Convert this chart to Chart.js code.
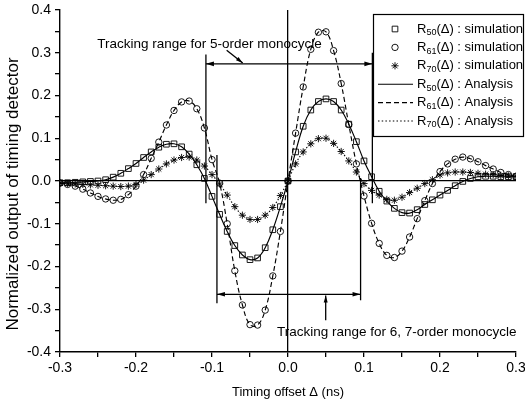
<!DOCTYPE html>
<html><head><meta charset="utf-8">
<script src="https://cdn.jsdelivr.net/npm/chart.js@4.4.0/dist/chart.umd.min.js"></script>
<style>html,body{margin:0;padding:0;background:#fff;}#wrap{position:relative;width:525px;height:403px;}canvas{display:block;}</style>
</head><body><div id="wrap"><canvas id="c" width="525" height="403"></canvas></div>
<script>
// ---- data ----
const offsets = [-0.30,-0.29,-0.28,-0.27,-0.26,-0.25,-0.24,-0.23,-0.22,-0.21,-0.20,-0.19,-0.18,-0.17,-0.16,-0.15,-0.14,-0.13,-0.12,-0.11,-0.10,-0.09,-0.08,-0.07,-0.06,-0.05,-0.04,-0.03,-0.02,-0.01,0.00,0.01,0.02,0.03,0.04,0.05,0.06,0.07,0.08,0.09,0.10,0.11,0.12,0.13,0.14,0.15,0.16,0.17,0.18,0.19,0.20,0.21,0.22,0.23,0.24,0.25,0.26,0.27,0.28,0.29,0.30];
const r50 = [-0.004,-0.004,-0.003,-0.002,-0.001,0.000,0.003,0.009,0.018,0.029,0.041,0.055,0.068,0.079,0.086,0.087,0.080,0.063,0.038,0.006,-0.036,-0.078,-0.118,-0.151,-0.173,-0.184,-0.180,-0.156,-0.114,-0.060,0.000,0.068,0.128,0.166,0.186,0.192,0.186,0.166,0.133,0.092,0.047,0.010,-0.024,-0.047,-0.064,-0.074,-0.075,-0.067,-0.055,-0.044,-0.033,-0.022,-0.011,-0.001,0.006,0.010,0.011,0.011,0.010,0.010,0.010];
const r61 = [-0.005,-0.008,-0.012,-0.019,-0.028,-0.036,-0.042,-0.045,-0.043,-0.032,-0.012,0.015,0.053,0.091,0.131,0.165,0.185,0.187,0.169,0.124,0.050,-0.005,-0.100,-0.210,-0.290,-0.336,-0.337,-0.302,-0.222,-0.118,0.000,0.112,0.220,0.308,0.348,0.349,0.305,0.228,0.132,0.040,-0.035,-0.099,-0.146,-0.174,-0.179,-0.164,-0.131,-0.088,-0.046,-0.006,0.022,0.040,0.051,0.056,0.052,0.045,0.036,0.028,0.020,0.015,0.011];
const r70 = [-0.005,-0.006,-0.007,-0.008,-0.009,-0.010,-0.011,-0.012,-0.013,-0.012,-0.008,0.002,0.015,0.028,0.040,0.049,0.055,0.056,0.049,0.035,0.015,-0.007,-0.033,-0.060,-0.080,-0.090,-0.090,-0.080,-0.062,-0.034,0.000,0.040,0.068,0.087,0.099,0.100,0.088,0.069,0.047,0.021,-0.006,-0.022,-0.033,-0.043,-0.045,-0.038,-0.027,-0.017,-0.006,0.003,0.014,0.019,0.021,0.021,0.020,0.018,0.016,0.015,0.013,0.012,0.011];
const xMajorTicks = [-0.3,-0.2,-0.1,0.0,0.1,0.2,0.3];
const yMajorTicks = [-0.4,-0.3,-0.2,-0.1,0.0,0.1,0.2,0.3,0.4];
const seriesSubs = ['50','61','70'];
const xTitle = 'Timing offset \u0394 (ns)';
const yTitle = 'Normalized output of timing detector';

// ---- annotations (data coordinates) ----
const ranges = [
  {x1:-0.108, x2:0.111, yArrow:0.274, leftSpan:[0.296,-0.052], rightSpan:[0.300,-0.052]},
  {x1:-0.0935, x2:0.0955, yArrow:-0.265, leftSpan:[0.061,-0.286], rightSpan:[0.007,-0.279]}
];
const notes = [
  {text:'Tracking range for 5-order monocycle', x:-0.251, y:0.319, from:[-0.0807,0.306], to:[-0.0596,0.276]},
  {text:'Tracking range for 6, 7-order monocycle', x:-0.0145, y:-0.354, from:[0.0496,-0.326], to:[0.0496,-0.268]}
];

const FONT = 'Arial, "Liberation Sans", sans-serif';
const pts = arr => offsets.map((x,i)=>({x:x, y:arr[i]}));
const markerStyles = ['rect','circle','star'];
const markerRadius = [4,3.2,3.6];
const dashes = [[],[5,3],[1.5,2.2]];
const allSeries = [r50, r61, r70];

const datasets = [];
allSeries.forEach((s,i)=>{
  datasets.push({label:'R'+seriesSubs[i]+'(\u0394) : simulation', legendSub:seriesSubs[i], legendTail:'(\u0394) : simulation', legendKind:'marker',
    data:pts(s), showLine:false, pointStyle:markerStyles[i], pointRadius:markerRadius[i], pointHoverRadius:markerRadius[i],
    pointBorderColor:'#000', pointBackgroundColor:'rgba(0,0,0,0)', pointBorderWidth:0.9, borderColor:'#000'});
});
allSeries.forEach((s,i)=>{
  datasets.push({label:'R'+seriesSubs[i]+'(\u0394) : Analysis', legendSub:seriesSubs[i], legendTail:'(\u0394) : Analysis', legendKind:'line',
    data:pts(s), showLine:true, pointRadius:0, borderColor:'#000', borderWidth:1.15, borderDash:dashes[i], tension:0.4, fill:false});
});

function isMajor(v, list){ return list.some(t=>Math.abs(t-v)<1e-6); }
function fmt(v){ return (Math.abs(v)<1e-9?0:v).toFixed(1); }

const overlay = {
  id:'overlay',
  afterDatasetsDraw(chart){
    const ctx = chart.ctx, xs = chart.scales.x, ys = chart.scales.y;
    const X = v=>xs.getPixelForValue(v), Y = v=>ys.getPixelForValue(v);
    ctx.save();
    ctx.strokeStyle = '#000'; ctx.fillStyle = '#000'; ctx.lineWidth = 1.3; ctx.setLineDash([]);
    function line(x1,y1,x2,y2){ ctx.beginPath(); ctx.moveTo(x1,y1); ctx.lineTo(x2,y2); ctx.stroke(); }
    function head(xt,yt,ang,len,hw){
      ctx.beginPath();
      ctx.moveTo(xt,yt);
      ctx.lineTo(xt - len*Math.cos(ang) + hw*Math.sin(ang), yt - len*Math.sin(ang) - hw*Math.cos(ang));
      ctx.lineTo(xt - len*Math.cos(ang) - hw*Math.sin(ang), yt - len*Math.sin(ang) + hw*Math.cos(ang));
      ctx.closePath(); ctx.fill();
    }
    ranges.forEach(r=>{
      const xl = X(r.x1), xr = X(r.x2), ya = Y(r.yArrow);
      line(xl, Y(r.leftSpan[0]), xl, Y(r.leftSpan[1]));
      line(xr, Y(r.rightSpan[0]), xr, Y(r.rightSpan[1]));
      line(xl, ya, xr, ya);
      head(xl, ya, Math.PI, 8, 2.3);
      head(xr, ya, 0, 8, 2.3);
    });
    ctx.font = '13.5px ' + FONT; ctx.textBaseline = 'middle'; ctx.textAlign = 'left';
    notes.forEach(n=>{
      ctx.fillText(n.text, X(n.x), Y(n.y));
      const x1 = X(n.from[0]), y1 = Y(n.from[1]), x2 = X(n.to[0]), y2 = Y(n.to[1]);
      line(x1,y1,x2,y2);
      head(x2, y2, Math.atan2(y2-y1, x2-x1), 7, 2);
    });
    // y-axis title
    ctx.save();
    ctx.translate(13, 194); ctx.rotate(-Math.PI/2);
    ctx.font = '17px ' + FONT; ctx.textAlign = 'center'; ctx.textBaseline = 'middle'; ctx.fillStyle = '#000';
    ctx.fillText(yTitle, 0, 0);
    ctx.restore();
    // legend
    const bx = 373.5, by = 14.5, bw = 150, bh = 122;
    ctx.fillStyle = '#fff'; ctx.fillRect(bx,by,bw,bh);
    ctx.lineWidth = 1.2; ctx.strokeStyle = '#000'; ctx.strokeRect(bx,by,bw,bh);
    chart.data.datasets.forEach((d,i)=>{
      const yy = by + 14.5 + i*18.4;
      ctx.strokeStyle = '#000';
      if (d.legendKind === 'marker') {
        ctx.fillStyle = 'rgba(0,0,0,0)'; ctx.lineWidth = 0.9; ctx.setLineDash([]);
        Chart.helpers.drawPoint(ctx, {pointStyle:d.pointStyle, radius:d.pointRadius, borderWidth:0.9, rotation:0}, 395, yy);
      } else {
        ctx.lineWidth = 1.15; ctx.setLineDash(d.borderDash);
        line(378, yy, 413, yy);
        ctx.setLineDash([]);
      }
      ctx.fillStyle = '#000';
      let tx = 417;
      ctx.font = '13px ' + FONT; ctx.fillText('R', tx, yy); tx += ctx.measureText('R').width;
      ctx.font = '9px ' + FONT; ctx.fillText(d.legendSub, tx, yy+4); tx += ctx.measureText(d.legendSub).width;
      ctx.font = '13px ' + FONT; ctx.fillText(d.legendTail, tx, yy);
    });
    ctx.restore();
  }
};

new Chart(document.getElementById('c'), {
  type:'scatter',
  data:{datasets:datasets},
  options:{
    responsive:false, animation:false, devicePixelRatio:1,
    layout:{padding:{left:0,right:9,top:10,bottom:0}},
    plugins:{legend:{display:false}, tooltip:{enabled:false}},
    elements:{line:{borderCapStyle:'butt'}},
    scales:{
      x:{type:'linear', min:-0.3, max:0.3,
        afterFit:s=>{s.height=51; s.paddingRight=0; s.paddingLeft=0;},
        ticks:{stepSize:0.05, autoSkip:false, maxRotation:0, color:'#000', font:{family:FONT,size:14}, padding:3,
          callback:v=>isMajor(v,xMajorTicks)?fmt(v):''},
        grid:{color:c=>(c.tick&&Math.abs(c.tick.value)<1e-9)?'#000':'rgba(0,0,0,0)', lineWidth:1.3, tickColor:'#000', tickLength:5, drawTicks:true},
        border:{display:true,color:'#000',width:1.4},
        title:{display:true,text:xTitle,color:'#000',font:{family:FONT,size:13},padding:{top:0,bottom:3}}
      },
      y:{type:'linear', min:-0.4, max:0.4,
        afterFit:s=>{s.width=60; s.paddingTop=0; s.paddingBottom=0;},
        ticks:{stepSize:0.05, autoSkip:false, color:'#000', font:{family:FONT,size:14}, padding:4,
          callback:v=>isMajor(v,yMajorTicks)?fmt(v):''},
        grid:{color:c=>(c.tick&&Math.abs(c.tick.value)<1e-9)?'#000':'rgba(0,0,0,0)', lineWidth:1.3, tickColor:'#000', tickLength:5, drawTicks:true},
        border:{display:true,color:'#000',width:1.4},
        title:{display:false}
      }
    }
  },
  plugins:[overlay]
});
</script></body></html>
